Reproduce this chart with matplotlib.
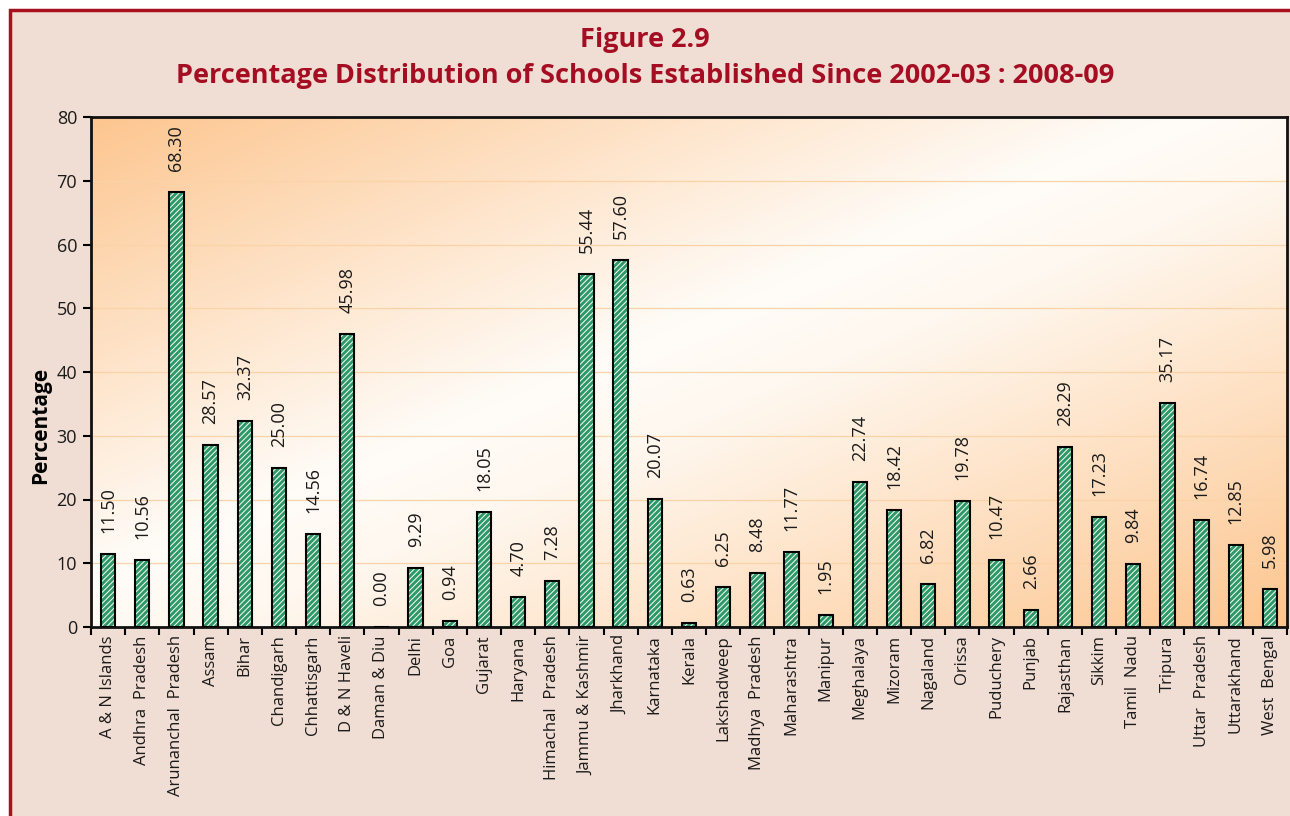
import numpy as np
import matplotlib
matplotlib.use("Agg")
import matplotlib.pyplot as plt
from matplotlib.colors import LinearSegmentedColormap
from matplotlib.patches import Rectangle

states = ["A & N Islands", "Andhra  Pradesh", "Arunanchal  Pradesh", "Assam", "Bihar",
          "Chandigarh", "Chhattisgarh", "D & N Haveli", "Daman & Diu", "Delhi", "Goa",
          "Gujarat", "Haryana", "Himachal  Pradesh", "Jammu & Kashmir", "Jharkhand",
          "Karnataka", "Kerala", "Lakshadweep", "Madhya  Pradesh", "Maharashtra",
          "Manipur", "Meghalaya", "Mizoram", "Nagaland", "Orissa", "Puduchery", "Punjab",
          "Rajasthan", "Sikkim", "Tamil  Nadu", "Tripura", "Uttar  Pradesh",
          "Uttarakhand", "West  Bengal"]
values = [11.50, 10.56, 68.30, 28.57, 32.37, 25.00, 14.56, 45.98, 0.00, 9.29, 0.94,
          18.05, 4.70, 7.28, 55.44, 57.60, 20.07, 0.63, 6.25, 8.48, 11.77, 1.95, 22.74,
          18.42, 6.82, 19.78, 10.47, 2.66, 28.29, 17.23, 9.84, 35.17, 16.74, 12.85, 5.98]
yticks = [0, 10, 20, 30, 40, 50, 60, 70, 80]

plt.rcParams['font.family'] = ['Open Sans', 'DejaVu Sans']
plt.rcParams['hatch.linewidth'] = 0.7

W, H = 1290, 816
fig = plt.figure(figsize=(W / 100, H / 100), dpi=100)
fig.patch.set_facecolor('white')

# page panel with red frame
bg = Rectangle((10 / W, -0.05), 1.1, 1 - 10 / H + 0.05, transform=fig.transFigure,
               facecolor='#F0DDD3', edgecolor='#A8101E', linewidth=2.5, zorder=-5)
fig.patches.append(bg)

ax = fig.add_axes([91 / W, 1 - 627 / H, (1287 - 91) / W, (627 - 117) / H])
ax.set_facecolor('none')

# diagonal gradient background
n = 300
xx, yy = np.meshgrid(np.linspace(0, 1, n), np.linspace(1, 0, n))
t = (xx + (1 - yy) * 1.0) / 2.0
cmap = LinearSegmentedColormap.from_list('g', [(0, '#FDC690'), (0.45, '#FFFCF8'),
                                              (0.55, '#FFF8F0'), (1, '#FDC690')])
ax.imshow(t, cmap=cmap, extent=[0, 1, 0, 1], transform=ax.transAxes, aspect='auto',
          zorder=0, origin='upper')

x = np.arange(len(states))
ax.set_xlim(-0.5, len(states) - 0.5)
ax.set_ylim(0, 80)

for yv in yticks[1:-1]:
    ax.axhline(yv, color='#FCD3A6', linewidth=0.9, zorder=1)

bw = 0.42
ax.bar(x, values, width=bw, color='#2E9866', edgecolor='white', hatch='//////',
       linewidth=0, zorder=2)
ax.bar(x, values, width=bw, color='none', edgecolor='black', linewidth=1.5, zorder=3)

for xi, v in zip(x, values):
    ax.annotate(f"{v:.2f}", (xi, v), xytext=(0, 15), textcoords='offset points',
                rotation=90, ha='center', va='bottom', fontsize=13, color='#1a1a1a',
                zorder=4)

ax.set_yticks(yticks)
ax.set_yticklabels([str(v) for v in yticks], fontsize=13, color='#1a1a1a')
ax.set_xticks(x)
ax.set_xticklabels(states, rotation=90, fontsize=12, color='#1a1a1a')
ax.set_xticks(np.arange(-0.5, len(states), 1), minor=True)
ax.tick_params(axis='x', which='major', length=0, pad=6)
ax.tick_params(axis='x', which='minor', length=6, width=1.5, direction='out')
ax.tick_params(axis='y', length=6, width=1.5, direction='out', pad=4)

for s in ['left', 'bottom', 'top', 'right']:
    ax.spines[s].set_linewidth(2)
    ax.spines[s].set_color('#111111')

ax.set_ylabel('Percentage', fontsize=15, fontweight='bold')
ax.yaxis.set_label_coords(-0.033, (627 - 425) / 510)

fig.text(0.5, 1 - 40 / H, 'Figure 2.9', ha='center', va='center', fontsize=19.5,
         fontweight='bold', color='#A50D22')
fig.text(0.5, 1 - 76 / H, 'Percentage Distribution of Schools Established Since 2002-03 : 2008-09',
         ha='center', va='center', fontsize=19.5, fontweight='bold', color='#A50D22')

fig.savefig('out.png', dpi=100)
